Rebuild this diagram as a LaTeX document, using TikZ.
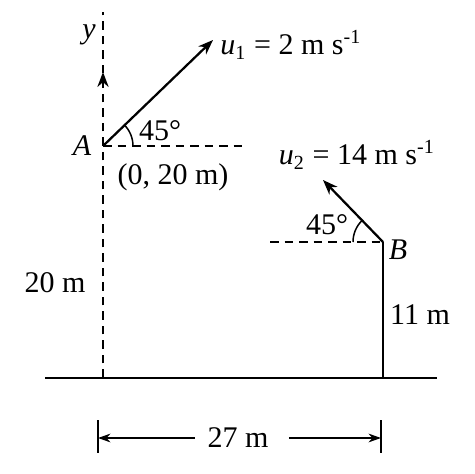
\documentclass[tikz,border=0pt]{standalone}
\usepackage{fontspec}
\setmainfont{Liberation Serif}
\usetikzlibrary{arrows.meta}

\tikzset{
  dashline/.style={line width=0.8pt, dash pattern=on 3.4pt off 2.4pt},
  vel/.style={line width=0.9pt, -{Stealth[length=6pt,width=4.5pt]}},
  dimarrow/.style={line width=0.7pt, -{Stealth[length=5pt,width=3.5pt]}, shorten <=4pt},
  lbl/.style={font=\fontsize{12}{14}\selectfont, inner sep=1pt}
}

\begin{document}
\begin{tikzpicture}[x=0.4pt,y=0.4pt]
		\useasboundingbox (0,0) rectangle (474,474);
		% points
		\coordinate (A) at (103,328);
		\coordinate (B) at (383,232);
		\coordinate (O) at (103,96);
		\coordinate (P) at (383,96);
		\coordinate (ytop) at (103,462);
		\coordinate (ytail) at (103,386);
		\coordinate (yhead) at (103,402);
		\coordinate (u1) at (213,434);
		\coordinate (u2) at (323,294);
		\coordinate (Aend) at (247,328);
		\coordinate (Bstart) at (270,232);
		\coordinate (gl) at (45,96);
		\coordinate (gr) at (437,96);
		\coordinate (dl) at (98,36);
		\coordinate (dr) at (381,36);
		\coordinate (tlb) at (98,21);
		\coordinate (tlt) at (98,54);
		\coordinate (trb) at (381,21);
		\coordinate (trt) at (381,54);
		% ground, axis and pole
		\draw[line width=1pt] (gl) -- (gr);
		\draw[dashline] (O) -- (ytop);
		\draw[line width=0.8pt,-{Stealth[length=6pt,width=4.5pt]}] (ytail) -- (yhead);
		\draw[line width=0.7pt] (P) -- (B);
		\draw[dashline] (A) -- (Aend);
		\draw[dashline] (Bstart) -- (B);
		% velocities
		\draw[vel] (A) -- (u1);
		\draw[vel] (B) -- (u2);
		\draw[line width=0.6pt] (A) ++(12pt,0) arc[start angle=0,end angle=45,radius=12pt];
		\draw[line width=0.6pt] (B) ++(-12pt,0) arc[start angle=180,end angle=135,radius=12pt];
		% labels
		\node[lbl] (ylab) at (89,439) {\textit{y}};
		\node[lbl] (Alab) at (82,328) {\textit{A}};
		\node[lbl] (Blab) at (398,224) {\textit{B}};
		\node[lbl] (angA) at (160,343) {45°};
		\node[lbl] (angB) at (327,249) {45°};
		\node[lbl] (posA) at (173,297) {(0, 20 m)};
		\node[lbl] (u1lab) at (291,429) {\textit{u}\textsubscript{1} = 2 m s\textsuperscript{-1}};
		\node[lbl] (u2lab) at (357,319) {\textit{u}\textsubscript{2} = 14 m s\textsuperscript{-1}};
		\node[lbl] (hA) at (55,191) {20 m};
		\node[lbl] (hB) at (420,159) {11 m};
		% distance
		\draw[line width=0.7pt] (tlb) -- (tlt);
		\draw[line width=0.7pt] (trb) -- (trt);
		\node[lbl] (dist) at (238,36) {27 m};
		\draw[dimarrow] (dist) -- (dl);
		\draw[dimarrow,shorten <=7pt] (dist) -- (dr);
	\end{tikzpicture}
\end{document}
